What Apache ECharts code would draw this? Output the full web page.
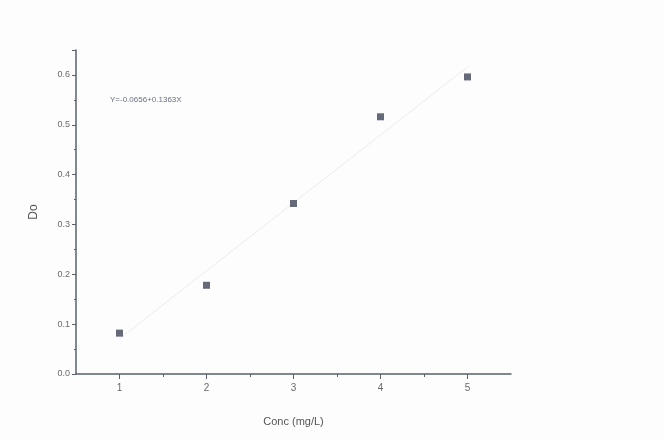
<!DOCTYPE html>
<html>
<head>
<meta charset="utf-8">
<script src="https://cdn.jsdelivr.net/npm/echarts@6/dist/echarts.min.js"></script>
<style>
  html, body { margin: 0; padding: 0; background: #fdfdfd; }
  #chart { width: 664px; height: 440px; }
</style>
</head>
<body>
<div id="chart"></div>
<script>
  // calibration points
  var conc = [1, 2, 3, 4, 5]
  var absorb = [0.082, 0.178, 0.342, 0.516, 0.596]
  var fitText = 'Y=-0.0656+0.1363X'
  var fitIntercept = -0.0656
  var fitSlope = 0.1363
  var xTicks = [1, 2, 3, 4, 5]
  var xMinorTicks = [1.5, 2.5, 3.5, 4.5]

  var pts = []
  for (var i = 0; i < conc.length; i++) {
    pts.push([conc[i], absorb[i]])
  }
  var fitLine = [
    [conc[0], fitIntercept + fitSlope * conc[0]],
    [conc[conc.length - 1], fitIntercept + fitSlope * conc[conc.length - 1]],
  ]

  var chart = echarts.init(document.getElementById('chart'))
  var axisColor = '#5a5f6a'
  var textColor = '#6a6a6a'
  var font = 'Liberation Sans'

  chart.setOption({
    backgroundColor: '#fdfdfd',
    animation: false,
    grid: {
      left: 76,
      top: 50,
      width: 435,
      height: 324,
    },
    xAxis: [
      {
        type: 'value',
        min: 0.5,
        max: 5.5,
        name: 'Conc (mg/L)',
        nameLocation: 'middle',
        nameGap: 42,
        nameTextStyle: { color: '#555', fontSize: 11, fontFamily: font },
        splitLine: { show: false },
        axisLine: { lineStyle: { color: axisColor, width: 1.5 } },
        axisTick: {
          customValues: xTicks,
          length: 5,
          inside: false,
          lineStyle: { color: axisColor },
        },
        axisLabel: {
          customValues: xTicks,
          color: textColor,
          fontSize: 10,
          fontFamily: font,
          margin: 9,
        },
      },
      {
        type: 'value',
        min: 0.5,
        max: 5.5,
        position: 'bottom',
        axisLine: { show: false },
        splitLine: { show: false },
        axisTick: {
          customValues: xMinorTicks,
          length: 3,
          lineStyle: { color: axisColor },
        },
        axisLabel: { show: false },
      },
    ],
    yAxis: {
      type: 'value',
      min: 0,
      max: 0.65,
      interval: 0.1,
      name: 'Do',
      nameLocation: 'middle',
      nameGap: 36,
      nameRotate: 90,
      nameTextStyle: { color: '#555', fontSize: 12, fontFamily: font },
      splitLine: { show: false },
      axisLine: { show: true, lineStyle: { color: axisColor, width: 1.5 } },
      axisTick: { length: 4, lineStyle: { color: axisColor } },
      minorTick: { show: true, splitNumber: 2, length: 2, lineStyle: { color: axisColor } },
      axisLabel: {
        color: textColor,
        fontSize: 9,
        fontFamily: font,
        margin: 6,
        showMaxLabel: false,
        formatter: function (v) {
          return v.toFixed(1)
        },
      },
    },
    graphic: [
      {
        type: 'text',
        left: 110,
        top: 96,
        style: {
          text: fitText,
          fill: '#6a7080',
          fontSize: 8,
          fontFamily: font,
        },
      },
    ],
    series: [
      {
        type: 'line',
        data: fitLine,
        xAxisIndex: 0,
        symbol: 'none',
        lineStyle: { color: '#ececec', width: 1 },
        silent: true,
        z: 1,
      },
      {
        type: 'scatter',
        data: pts,
        xAxisIndex: 0,
        symbol: 'rect',
        symbolSize: 7,
        itemStyle: { color: '#3e4558' },
        z: 3,
      },
    ],
  })
</script>
</body>
</html>
